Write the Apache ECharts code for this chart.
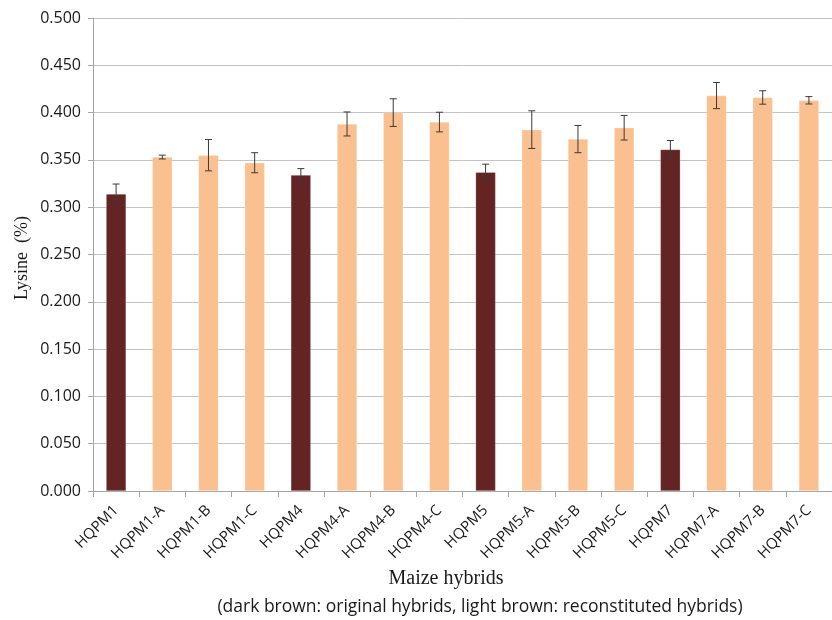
<!DOCTYPE html>
<html>
<head>
<meta charset="utf-8">
<script src="https://cdn.jsdelivr.net/npm/echarts@6/dist/echarts.min.js"></script>
<style>
  html, body { margin: 0; padding: 0; background: #fff; }
  #chart { width: 832px; height: 620px; }
</style>
</head>
<body>
<div id="chart"></div>
<script>
// Maize hybrids and their lysine content (%), with standard error
const hybrids = ['HQPM1', 'HQPM1-A', 'HQPM1-B', 'HQPM1-C', 'HQPM4', 'HQPM4-A', 'HQPM4-B', 'HQPM4-C',
                 'HQPM5', 'HQPM5-A', 'HQPM5-B', 'HQPM5-C', 'HQPM7', 'HQPM7-A', 'HQPM7-B', 'HQPM7-C'];
const lysine = [0.314, 0.353, 0.355, 0.347, 0.334, 0.388, 0.400, 0.390,
                0.337, 0.382, 0.372, 0.384, 0.361, 0.418, 0.416, 0.413];
const errors = [0.0105, 0.002, 0.0166, 0.0106, 0.0068, 0.0127, 0.0146, 0.0104,
                0.0085, 0.0199, 0.0144, 0.013, 0.0095, 0.0138, 0.0071, 0.0039];
// true = original hybrid, false = reconstituted hybrid
const isOriginal = [true, false, false, false, true, false, false, false,
                    true, false, false, false, true, false, false, false];
const yTicks = { min: 0, max: 0.5, interval: 0.05 };

const DARK = '#632423';
const LIGHT = '#FAC090';

const chart = echarts.init(document.getElementById('chart'), null, { renderer: 'canvas' });

const barData = lysine.map((v, i) => ({
  value: v,
  itemStyle: { color: isOriginal[i] ? DARK : LIGHT }
}));
const errData = lysine.map((v, i) => [i, v - errors[i], v + errors[i]]);

chart.setOption({
  animation: false,
  backgroundColor: '#ffffff',
  grid: { left: 93, top: 18, right: -9, bottom: 129 },
  xAxis: {
    type: 'category',
    data: hybrids,
    axisLine: { lineStyle: { color: '#a6a6a6' } },
    axisTick: { show: true, length: 6, lineStyle: { color: '#a6a6a6' } },
    axisLabel: {
      rotate: 45,
      interval: 0,
      margin: 17,
      color: '#1a1a1a',
      fontFamily: 'Open Sans',
      fontSize: 15
    }
  },
  yAxis: {
    type: 'value',
    min: yTicks.min,
    max: yTicks.max,
    interval: yTicks.interval,
    axisLine: { show: true, lineStyle: { color: '#a6a6a6' } },
    axisTick: { show: true, length: 5, lineStyle: { color: '#a6a6a6' } },
    splitLine: { lineStyle: { color: '#c4c4c4', width: 1 } },
    axisLabel: {
      formatter: v => v.toFixed(3),
      color: '#1a1a1a',
      fontFamily: 'Open Sans',
      fontSize: 16,
      margin: 12
    }
  },
  series: [
    {
      type: 'bar',
      data: barData,
      barWidth: 20,
      itemStyle: { borderColor: 'rgba(255,255,255,0.5)', borderWidth: 0.5 }
    },
    {
      type: 'custom',
      data: errData,
      z: 5,
      renderItem: function (params, api) {
        const x = api.value(0);
        const lo = api.coord([x, api.value(1)]);
        const hi = api.coord([x, api.value(2)]);
        const cap = 3.5;
        const style = { stroke: '#3a3a3a', lineWidth: 1 };
        return {
          type: 'group',
          children: [
            { type: 'line', shape: { x1: hi[0], y1: hi[1], x2: lo[0], y2: lo[1] }, style: style },
            { type: 'line', shape: { x1: hi[0] - cap, y1: hi[1], x2: hi[0] + cap, y2: hi[1] }, style: style },
            { type: 'line', shape: { x1: lo[0] - cap, y1: lo[1], x2: lo[0] + cap, y2: lo[1] }, style: style }
          ]
        };
      }
    }
  ],
  graphic: [
    {
      type: 'text',
      x: 22,
      y: 258,
      rotation: Math.PI / 2,
      style: {
        text: 'Lysine  (%)',
        font: '18px "Liberation Serif", "Times New Roman", serif',
        fill: '#1a1a1a',
        textAlign: 'center',
        textVerticalAlign: 'middle'
      }
    },
    {
      type: 'text',
      x: 446,
      y: 579,
      style: {
        text: 'Maize hybrids',
        font: '20px "Liberation Serif", "Times New Roman", serif',
        fill: '#1a1a1a',
        textAlign: 'center',
        textVerticalAlign: 'middle'
      }
    },
    {
      type: 'text',
      x: 480,
      y: 607,
      style: {
        text: '(dark brown: original hybrids, light brown: reconstituted hybrids)',
        font: '17.5px "Open Sans", sans-serif',
        fill: '#1a1a1a',
        textAlign: 'center',
        textVerticalAlign: 'middle'
      }
    }
  ]
});
</script>
</body>
</html>
